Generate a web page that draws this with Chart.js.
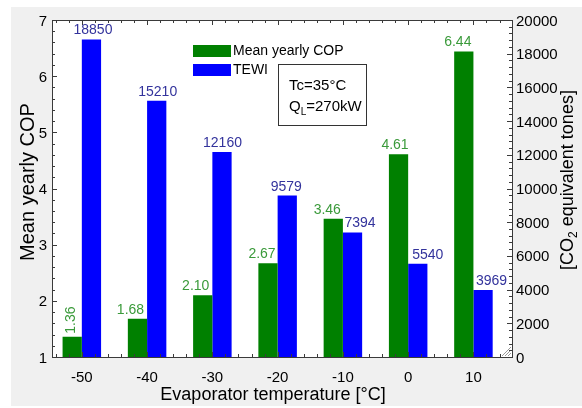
<!DOCTYPE html>
<html>
<head>
<meta charset="utf-8">
<script src="https://cdn.jsdelivr.net/npm/chart.js@4.4.1/dist/chart.umd.min.js"></script>
<style>
  html, body { margin: 0; padding: 0; background: #ffffff; }
  #wrap { width: 582px; height: 408px; }
</style>
</head>
<body>
<div id="wrap"><canvas id="c" width="582" height="408"></canvas></div>
<script>
// Evaporator temperatures [°C]
const temperatures = [-50, -40, -30, -20, -10, 0, 10];
// Mean yearly COP (left axis)
const meanCOP = [1.36, 1.68, 2.10, 2.67, 3.46, 4.61, 6.44];
// TEWI in CO2 equivalent tones (right axis)
const tewi = [18850, 15210, 12160, 9579, 7394, 5540, 3969];
// Axis tick labels
const copTicks = [1, 2, 3, 4, 5, 6, 7];
const tewiTicks = [0, 2000, 4000, 6000, 8000, 10000, 12000, 14000, 16000, 18000, 20000];
const tempTicks = [-50, -40, -30, -20, -10, 0, 10];

const FONT = '"Liberation Sans", Arial, sans-serif';
const AXIS_COLOR = '#3a3a3a';

// Horizontal nudges for the value labels so neighbouring labels do not collide
const labelShift = {
  cop:  [0, -7, -7, -6, -6, -3.5, -6],
  tewi: [1.5, 1, 0.5, -1, 7.5, 10, 8.5]
};

const decorations = {
  id: 'decorations',
  beforeDraw(chart) {
    const ctx = chart.ctx;
    const a = chart.chartArea;
    ctx.save();
    ctx.fillStyle = '#f0f0f0';
    ctx.fillRect(11, 7, 571, 399);
    ctx.fillStyle = '#ffffff';
    ctx.fillRect(a.left, a.top, a.right - a.left, a.bottom - a.top);
    ctx.restore();
  },
  afterDatasetsDraw(chart) {
    const ctx = chart.ctx;
    const a = chart.chartArea;
    const sx = chart.scales.x, sy = chart.scales.y, sy1 = chart.scales.y1;
    ctx.save();

    // resize grip in the lower right corner
    ctx.strokeStyle = '#9a9a9a';
    ctx.lineWidth = 1;
    for (const k of [3, 6, 9]) {
      ctx.beginPath();
      ctx.moveTo(a.right - 1 - k, a.bottom - 1);
      ctx.lineTo(a.right - 1, a.bottom - 1 - k);
      ctx.stroke();
    }

    // frame
    ctx.strokeStyle = AXIS_COLOR;
    ctx.lineWidth = 1;
    ctx.strokeRect(Math.round(a.left) + 0.5, Math.round(a.top) + 0.5,
                   Math.round(a.right - a.left), Math.round(a.bottom - a.top));

    const tick = (x1, y1, x2, y2) => {
      ctx.beginPath(); ctx.moveTo(x1, y1); ctx.lineTo(x2, y2); ctx.stroke();
    };

    // left axis ticks (every 0.2, major every 1)
    for (let i = 0; i <= 30; i++) {
      const v = 1 + i * 0.2;
      const p = Math.round(sy.getPixelForValue(v)) + 0.5;
      const len = (i % 5 === 0) ? 5 : 3;
      tick(a.left, p, a.left + len, p);
    }
    // right axis ticks (every 400, major every 2000)
    for (let i = 0; i <= 50; i++) {
      const v = i * 400;
      const p = Math.round(sy1.getPixelForValue(v)) + 0.5;
      const len = (i % 5 === 0) ? 5 : 3;
      tick(a.right, p, a.right - len, p);
    }
    // bottom and top ticks (every 2 °C, major every 10 °C)
    for (let v = -54; v <= 14; v += 2) {
      const p = Math.round(sx.getPixelForValue(v)) + 0.5;
      const len = (v % 10 === 0) ? 5 : 3;
      tick(p, a.bottom, p, a.bottom - len);
      tick(p, a.top, p, a.top + len);
    }

    // tick labels
    ctx.fillStyle = '#000000';
    ctx.font = '15px ' + FONT;
    ctx.textBaseline = 'alphabetic';
    ctx.textAlign = 'right';
    copTicks.forEach(v => ctx.fillText(String(v), a.left - 5, sy.getPixelForValue(v) + 5.5));
    ctx.textAlign = 'left';
    tewiTicks.forEach(v => ctx.fillText(String(v), a.right + 4, sy1.getPixelForValue(v) + 5.5));
    ctx.textAlign = 'center';
    tempTicks.forEach(v => ctx.fillText(String(v), sx.getPixelForValue(v), 381.5));

    // axis titles
    ctx.font = '18px ' + FONT;
    ctx.fillText('Evaporator temperature [°C]', 273, 400);

    ctx.save();
    ctx.translate(34, 182);
    ctx.rotate(-Math.PI / 2);
    ctx.textAlign = 'center';
    ctx.font = '20px ' + FONT;
    ctx.fillText('Mean yearly COP', 0, 0);
    ctx.restore();

    // right title with subscript
    ctx.save();
    ctx.translate(573, 180);
    ctx.rotate(-Math.PI / 2);
    const parts = [['[CO', 18, 0], ['2', 12, 4], [' equivalent tones]', 18, 0]];
    let total = 0;
    parts.forEach(([t, s]) => { ctx.font = s + 'px ' + FONT; total += ctx.measureText(t).width; });
    let xx = -total / 2;
    ctx.textAlign = 'left';
    parts.forEach(([t, s, dy]) => {
      ctx.font = s + 'px ' + FONT;
      ctx.fillText(t, xx, dy);
      xx += ctx.measureText(t).width;
    });
    ctx.restore();

    // legend
    ctx.font = '14px ' + FONT;
    ctx.textAlign = 'left';
    ctx.textBaseline = 'middle';
    chart.data.datasets.forEach((ds, i) => {
      const y = 45 + i * 19;
      ctx.fillStyle = ds.backgroundColor;
      ctx.fillRect(193, y, 38, 12);
      ctx.fillStyle = '#000000';
      ctx.fillText(ds.label, 233, y + 6.5);
    });

    // operating conditions box
    ctx.strokeStyle = '#333333';
    ctx.strokeRect(278.5, 64.5, 88, 61);
    ctx.fillStyle = '#000000';
    ctx.textBaseline = 'alphabetic';
    ctx.font = '15px ' + FONT;
    ctx.fillText('Tc=35°C', 289, 90);
    ctx.fillText('Q', 289, 111);
    let qx = 289 + ctx.measureText('Q').width;
    ctx.font = '10px ' + FONT;
    ctx.fillText('L', qx, 115);
    qx += ctx.measureText('L').width;
    ctx.font = '15px ' + FONT;
    ctx.fillText('=270kW', qx, 111);

    // value labels above the bars
    ctx.font = '14px ' + FONT;
    const series = [
      { meta: chart.getDatasetMeta(0), values: meanCOP, fmt: v => v.toFixed(2), color: '#3a9a3a', shift: labelShift.cop },
      { meta: chart.getDatasetMeta(1), values: tewi, fmt: v => String(v), color: '#33339c', shift: labelShift.tewi }
    ];
    series.forEach(s => {
      ctx.fillStyle = s.color;
      s.meta.data.forEach((bar, i) => {
        const text = s.fmt(s.values[i]);
        const h = a.bottom - bar.y;
        if (h < 25) {
          // short bars get an upright label
          ctx.save();
          ctx.translate(bar.x - 1, bar.y - 3);
          ctx.rotate(-Math.PI / 2);
          ctx.textAlign = 'left';
          ctx.textBaseline = 'middle';
          ctx.fillText(text, 0, 0);
          ctx.restore();
        } else {
          ctx.textAlign = 'center';
          ctx.textBaseline = 'alphabetic';
          ctx.fillText(text, bar.x + s.shift[i], bar.y - 5);
        }
      });
    });

    ctx.restore();
  }
};

new Chart(document.getElementById('c'), {
  type: 'bar',
  data: {
    datasets: [
      {
        label: 'Mean yearly COP',
        data: temperatures.map((t, i) => ({ x: t, y: meanCOP[i] })),
        backgroundColor: '#008000',
        yAxisID: 'y',
        categoryPercentage: 0.59,
        barPercentage: 1.0
      },
      {
        label: 'TEWI',
        data: temperatures.map((t, i) => ({ x: t, y: tewi[i] })),
        backgroundColor: '#0000ff',
        yAxisID: 'y1',
        categoryPercentage: 0.59,
        barPercentage: 1.0
      }
    ]
  },
  options: {
    responsive: false,
    animation: false,
    devicePixelRatio: 1,
    layout: { padding: { left: 52, right: 70, top: 20, bottom: 51 } },
    plugins: { legend: { display: false }, tooltip: { enabled: false } },
    scales: {
      x: { type: 'linear', display: false, offset: false, min: -54.57, max: 15.91 },
      y: { type: 'linear', display: false, position: 'left', min: 1, max: 7 },
      y1: { type: 'linear', display: false, position: 'right', min: 0, max: 20000 }
    }
  },
  plugins: [decorations]
});
</script>
</body>
</html>
